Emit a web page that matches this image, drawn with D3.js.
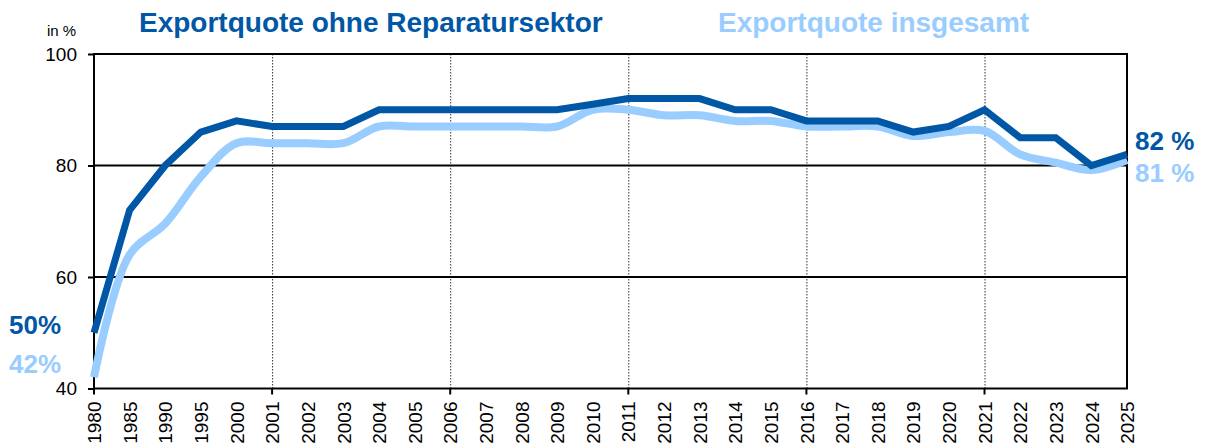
<!DOCTYPE html>
<html><head><meta charset="utf-8">
<script src="https://cdn.jsdelivr.net/npm/d3@7"></script>
<style>html,body{margin:0;padding:0;background:#fff;}svg{display:block;font-family:"Liberation Sans",Arial,sans-serif;}</style>
</head><body>
<svg id="c" width="1208" height="444"></svg>
<script>
const years = ["1980","1985","1990","1995","2000","2001","2002","2003","2004","2005","2006","2007","2008","2009","2010","2011","2012","2013","2014","2015","2016","2017","2018","2019","2020","2021","2022","2023","2024","2025"];
const ohneReparatur = [50,72,80,86,88,87,87,87,90,90,90,90,90,90,91,92,92,92,90,90,88,88,88,86,87,90,85,85,80,82];
const insgesamt = [42,64,69.6,78,84,84,84,84,87,87,87,87,87,87,90,90,89,89,88,88,87,87,87,85.3,86,86.2,82,80.5,79.2,81];
const yTicks = [40,60,80,100];
const gridYears = ["2001","2006","2011","2016","2021"];
const tickYears = ["1980","2001","2006","2011","2016","2021"];
const darkColor = "#0057a5", lightColor = "#99ccff";

const svg = d3.select("#c");
const L = 94, R = 1127, T = 54, B = 388.5;
const x = d3.scalePoint().domain(years).range([L, R]);
const y = d3.scaleLinear().domain([40,100]).range([B, T]);

// vertical dotted grid
svg.append("g").selectAll("line").data(gridYears).join("line")
  .attr("x1", d => x(d)+0.5).attr("x2", d => x(d)+0.5)
  .attr("y1", T).attr("y2", B)
  .attr("stroke", "#333").attr("stroke-width", 1).attr("stroke-dasharray", "1.5,1.5");

// horizontal grid
svg.append("g").selectAll("line").data([60,80]).join("line")
  .attr("x1", L).attr("x2", R).attr("y1", d => y(d)).attr("y2", d => y(d))
  .attr("stroke", "#000").attr("stroke-width", 2);

// frame
svg.append("rect").attr("x", L).attr("y", T).attr("width", R-L).attr("height", B-T)
  .attr("fill", "none").attr("stroke", "#000").attr("stroke-width", 2);

// y axis
const yAxis = d3.axisLeft(y).tickValues(yTicks).tickSize(6).tickPadding(11).tickFormat(d3.format("d"));
const gy = svg.append("g").attr("transform", `translate(${L},0)`).call(yAxis);
gy.select(".domain").remove();
gy.selectAll(".tick line").attr("stroke", "#000").attr("stroke-width", 2);
gy.selectAll(".tick text").attr("font-size", 19).attr("fill", "#000").attr("font-family", "Liberation Sans, Arial, sans-serif");

// x axis
const xAxis = d3.axisBottom(x).tickSize(0).tickPadding(0);
const gx = svg.append("g").attr("transform", `translate(0,${B})`).call(xAxis);
gx.select(".domain").remove();
gx.selectAll(".tick text")
  .attr("font-size", 19).attr("fill", "#000").attr("font-family", "Liberation Sans, Arial, sans-serif")
  .attr("text-anchor", "end").attr("transform", "rotate(-90)")
  .attr("x", -13).attr("y", 0).attr("dy", "0.35em");
svg.append("g").selectAll("line").data(tickYears).join("line")
  .attr("x1", d => x(d)).attr("x2", d => x(d)).attr("y1", B).attr("y2", B+6)
  .attr("stroke", "#000").attr("stroke-width", 2);

// lines
const pts = v => years.map((yr,i) => [x(yr), y(v[i])]);
svg.append("path").attr("d", d3.line().curve(d3.curveCatmullRom.alpha(0.5))(pts(insgesamt)))
  .attr("fill", "none").attr("stroke", lightColor).attr("stroke-width", 8).attr("stroke-linejoin", "round");
svg.append("path").attr("d", d3.line()(pts(ohneReparatur)))
  .attr("fill", "none").attr("stroke", darkColor).attr("stroke-width", 7);

// titles
svg.append("text").attr("x", 139).attr("y", 32).attr("font-size", 28).attr("font-weight", "bold")
  .attr("fill", darkColor).text("Exportquote ohne Reparatursektor");
svg.append("text").attr("x", 718).attr("y", 32).attr("font-size", 28).attr("font-weight", "bold")
  .attr("fill", lightColor).text("Exportquote insgesamt");
svg.append("text").attr("x", 47).attr("y", 36).attr("font-size", 15).attr("fill", "#000").text("in %");

// end labels
svg.append("text").attr("x", 1135).attr("y", 150).attr("font-size", 26).attr("font-weight", "bold")
  .attr("fill", darkColor).text(ohneReparatur[ohneReparatur.length-1] + " %");
svg.append("text").attr("x", 1135).attr("y", 182).attr("font-size", 26).attr("font-weight", "bold")
  .attr("fill", lightColor).text(insgesamt[insgesamt.length-1] + " %");
svg.append("text").attr("x", 9).attr("y", 334).attr("font-size", 26).attr("font-weight", "bold")
  .attr("fill", darkColor).text(ohneReparatur[0] + "%");
svg.append("text").attr("x", 9).attr("y", 373).attr("font-size", 26).attr("font-weight", "bold")
  .attr("fill", lightColor).text(insgesamt[0] + "%");
</script>
</body></html>
